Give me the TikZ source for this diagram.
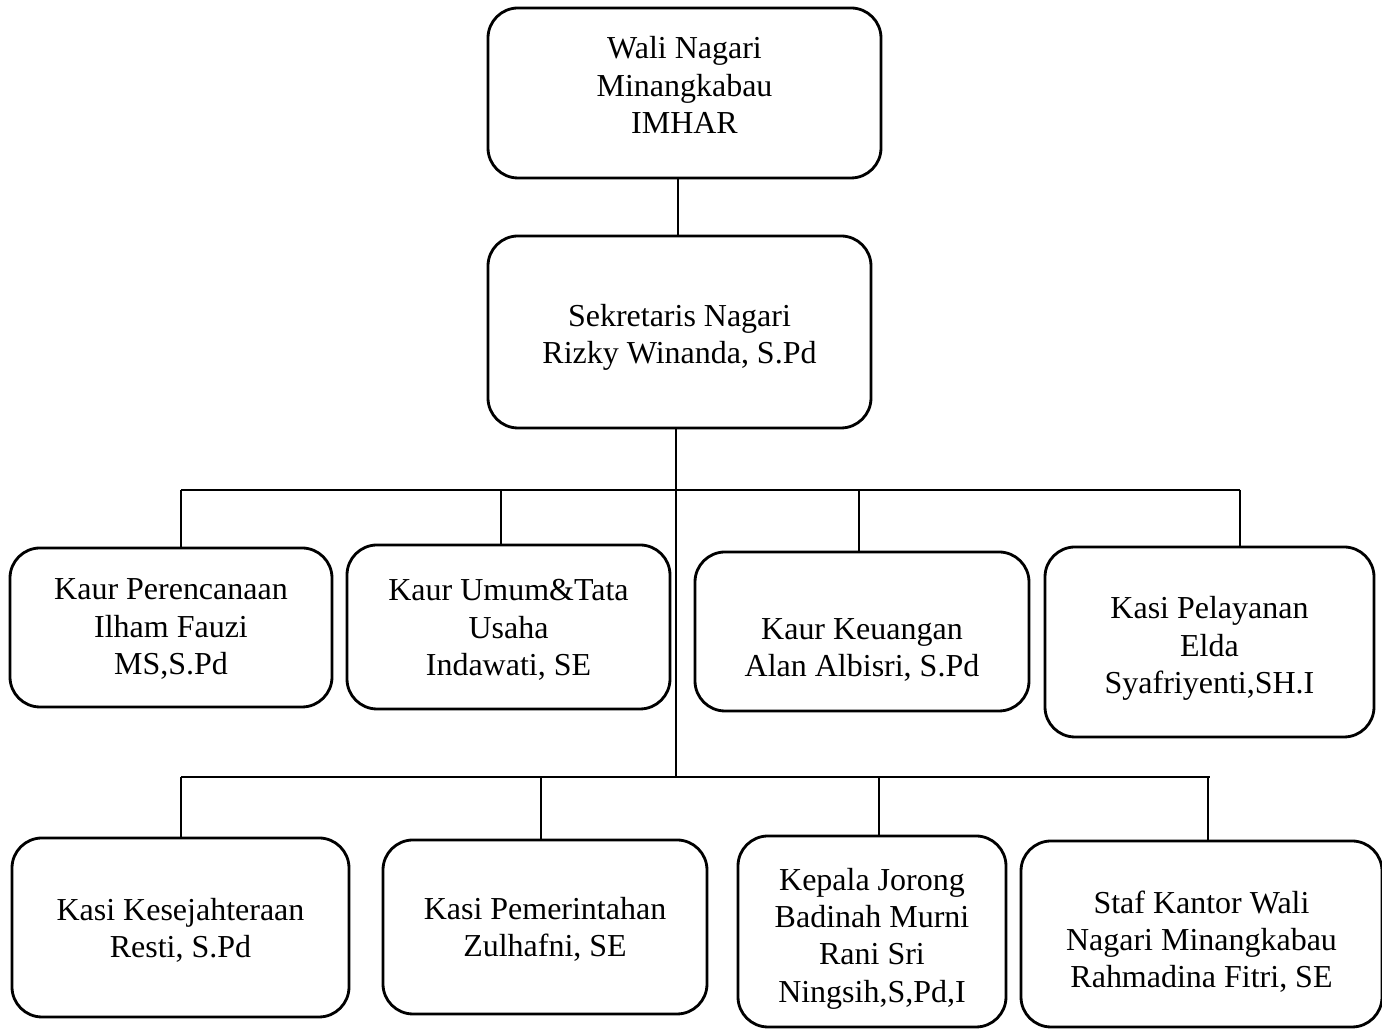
\documentclass[tikz,border=0pt]{standalone}
\usepackage{fontspec}
\setmainfont{Liberation Serif}
\newcommand{\boxtxt}[2][0cm]{\raisebox{\dimexpr-0.116cm-#1\relax}[0pt][0pt]{\begin{tabular}{@{}c@{}}#2\end{tabular}}}
\begin{document}
\begin{tikzpicture}[line width=0.6pt,
	box/.style={draw, rounded corners=0.3cm, line width=0.8pt, inner sep=0pt,
		font=\fontsize{9.1}{10.6}\selectfont}]
	\useasboundingbox (0,0) rectangle (13.82,-10.29);
	\node[box, minimum width=3.93cm, minimum height=1.70cm] (wali) at (6.845,-0.93) {\boxtxt[-0.08cm]{Wali Nagari\\Minangkabau\\IMHAR}};
	\node[box, minimum width=3.83cm, minimum height=1.92cm] (sek) at (6.795,-3.32) {\boxtxt[0.015cm]{Sekretaris Nagari\\Rizky Winanda, S.Pd}};
	\node[box, minimum width=3.22cm, minimum height=1.59cm] (perenc) at (1.71,-6.275) {\boxtxt[-0.015cm]{Kaur Perencanaan\\Ilham Fauzi\\MS,S.Pd}};
	\node[box, minimum width=3.23cm, minimum height=1.64cm] (umum) at (5.085,-6.27) {\boxtxt{Kaur Umum\&Tata\\Usaha\\Indawati, SE}};
	\node[box, minimum width=3.34cm, minimum height=1.59cm] (keu) at (8.62,-6.315) {\boxtxt[0.15cm]{Kaur Keuangan\\Alan Albisri, S.Pd}};
	\node[box, minimum width=3.29cm, minimum height=1.90cm] (pelay) at (12.095,-6.42) {\boxtxt[0.03cm]{Kasi Pelayanan\\Elda\\Syafriyenti,SH.I}};
	\node[box, minimum width=3.37cm, minimum height=1.79cm] (kesej) at (1.805,-9.275) {\boxtxt{Kasi Kesejahteraan\\Resti, S.Pd}};
	\node[box, minimum width=3.24cm, minimum height=1.74cm] (pemer) at (5.45,-9.27) {\boxtxt{Kasi Pemerintahan\\Zulhafni, SE}};
	\node[box, minimum width=2.68cm, minimum height=1.91cm] (jorong) at (8.72,-9.315) {\boxtxt[0.035cm]{Kepala Jorong\\Badinah Murni\\Rani Sri\\Ningsih,S,Pd,I}};
	\node[box, minimum width=3.61cm, minimum height=1.86cm] (staf) at (12.015,-9.34) {\boxtxt[0.055cm]{Staf Kantor Wali\\Nagari Minangkabau\\Rahmadina Fitri, SE}};
	\coordinate (bus1l) at (1.81,-4.90);
	\coordinate (bus1r) at (12.40,-4.90);
	\coordinate (bus2l) at (1.81,-7.77);
	\coordinate (bus2r) at (12.10,-7.77);
	\coordinate (mid) at (6.76,-7.77);
	\draw (6.78,0 |- wali.south) -- (6.78,0 |- sek.north);
	\draw (mid |- sek.south) -- (mid);
	\draw (bus1l) -- (bus1r);
	\draw (bus2l) -- (bus2r);
	\foreach \x/\n in {1.81/perenc, 5.01/umum, 8.59/keu, 12.40/pelay}
		\draw (\x,-4.90) -- (\x,0 |- \n.north);
	\foreach \x/\n in {1.81/kesej, 5.41/pemer, 8.79/jorong, 12.08/staf}
		\draw (\x,-7.77) -- (\x,0 |- \n.north);
\end{tikzpicture}
\end{document}
